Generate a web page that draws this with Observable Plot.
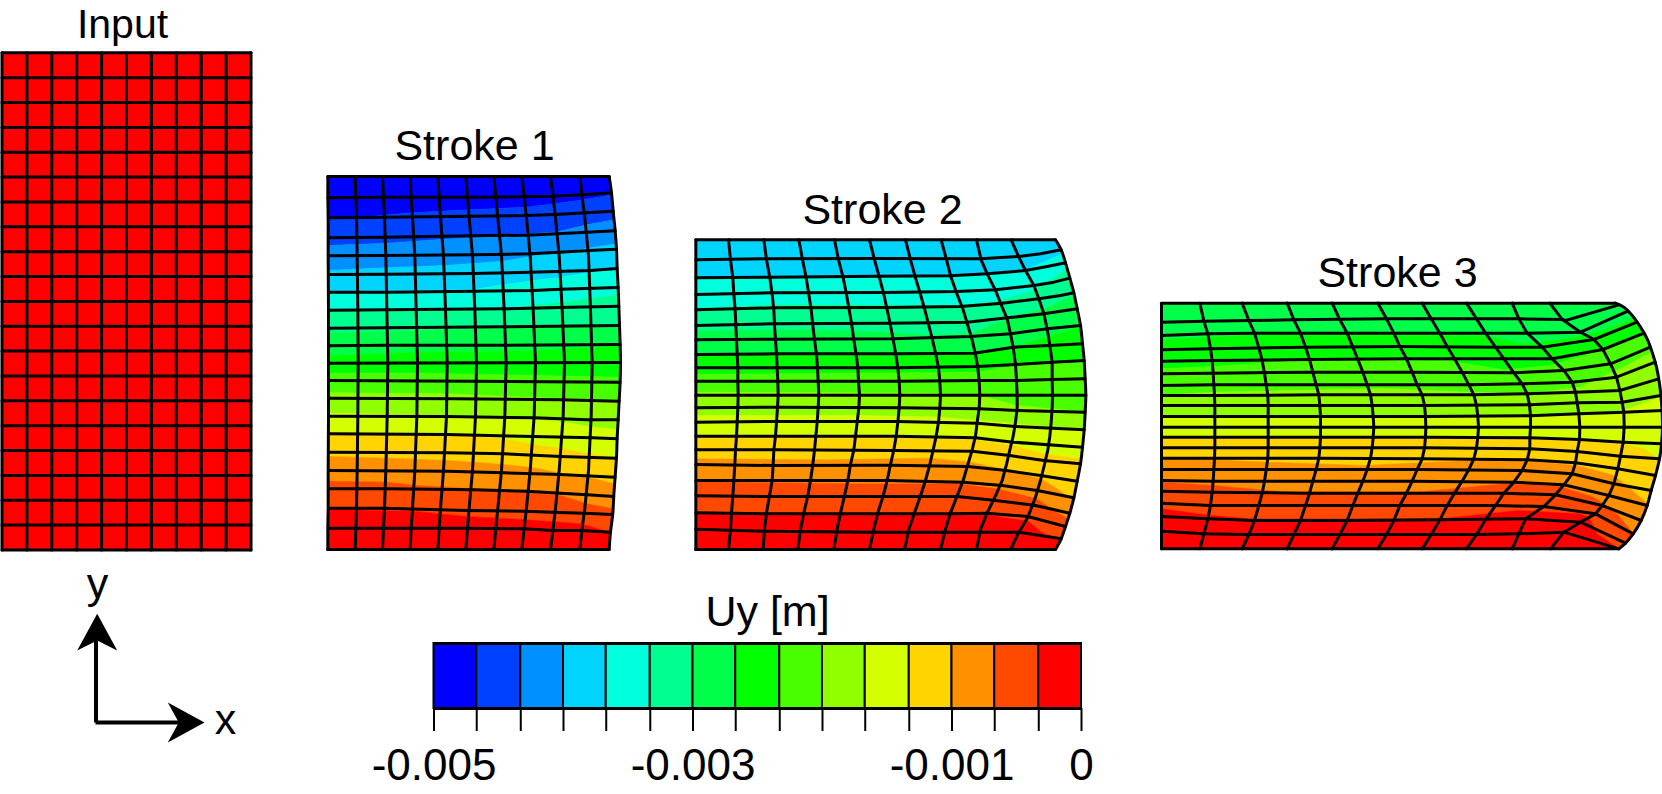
<!DOCTYPE html>
<html>
<head>
<meta charset="utf-8">
<script src="https://cdn.jsdelivr.net/npm/d3@7"></script>
<script src="https://cdn.jsdelivr.net/npm/@observablehq/plot@0.6"></script>
<style>
html,body{margin:0;padding:0;background:#fff}
#fig{position:relative;width:1662px;height:794px;overflow:hidden}
#fig svg{position:absolute;left:0;background:transparent}
</style>
</head>
<body>
<div id="fig"></div>
<script>
// ---------- colour bar ----------
const bandColors = ["#0000ff","#0040ff","#0090ff","#00d4ff","#00ffdc","#00ff90","#00ff48","#00ff00","#48ff00","#90ff00","#d4ff00","#ffd400","#ff9000","#ff4800","#ff0000"];
const uyLevels = [-0.005,-0.00467,-0.00433,-0.004,-0.00367,-0.00333,-0.003,-0.00267,-0.00233,-0.002,-0.00167,-0.00133,-0.001,-0.00067,-0.00033,0];
const uyLabels = ["-0.005","","","","","","-0.003","","","","","","-0.001","","","0"];

// ---------- input mesh (figure units) ----------
const inputCols = [1.5,26.4,51.3,76.2,101.1,126,150.9,175.8,200.7,225.6,250.5];
const inputRows = [52.3,77.2,102,126.9,151.8,176.6,201.5,226.3,251.2,276,300.9,325.8,350.6,375.5,400.3,425.2,450,474.9,499.8,524.6,549.5];

// ---------- stroke 1: flat x,y lists, read at 3x from the crop starting (320,160) / (320,360) ----------
const s1ColY = [48,110,172,286,449,606,767,930,1043,1103,1167];
const s1ColX = [
 [22,22,23,23,24,24,24,23,23,22,22],
 [104,106,108,110,112,113,112,110,108,106,104],
 [186,189,192,196,199,202,200,196,192,189,186],
 [269,272,276,283,287,291,289,283,276,272,269],
 [352,356,360,369,375,380,378,369,360,356,352],
 [436,441,446,456,463,468,465,456,446,441,436],
 [520,526,532,543,551,557,553,543,532,526,520],
 [604,611,618,629,638,645,641,629,618,611,604],
 [690,698,705,716,725,732,728,716,705,698,690],
 [778,785,793,804,810,815,812,804,793,785,778]];
const s1Edge = [866,48,873,97,878,152,884,211,888,266,890,324,893,381,895,437,897,495,899,552,900,606,899,662,896,720,893,778,890,833,888,889,884,948,880,1003,877,1058,870,1115,866,1167];
const s1RowsUp = [
 [22,48,866,48],
 [22,112,186,110,436,110,604,109,695,107,785,103,873,97],
 [23,172,192,170,446,167,618,165,705,162,795,157,878,152],
 [23,232,196,230,450,226,620,224,710,220,800,215,884,211],
 [23,286,196,285,456,283,630,280,716,275,805,270,888,266],
 [24,342,199,341,460,339,630,335,810,330,890,324],
 [24,395,199,395,460,392,640,390,720,386,893,381],
 [24,449,200,448,550,445,720,441,895,437],
 [24,503,200,502,550,499,897,495],
 [24,556,200,554,550,554,899,552]];
const s1RowsDown = [
 [24,8,901,6],
 [24,60,460,62,897,65],
 [24,113,400,115,720,118,896,122],
 [24,167,380,168,640,172,800,178,893,178],
 [24,220,380,222,640,228,815,232,890,235],
 [24,275,380,277,550,280,720,288,888,293],
 [24,330,380,332,550,337,720,342,884,350],
 [24,385,200,385,460,388,620,392,720,398,800,403,880,408],
 [24,443,190,443,440,450,610,452,695,455,790,458,876,462],
 [23,503,186,503,440,503,610,505,695,510,780,510,870,515],
 [22,567,866,567]];
const s1BandsUp = [
 [22,172,150,168,270,157,450,148,620,140,700,130,790,118,875,103],
 [22,255,200,248,370,236,540,228,710,214,800,193,880,178],
 [22,330,200,322,375,315,550,302,635,287,805,263,888,250],
 [22,395,460,387,550,373,640,360,725,350,810,335,892,325],
 [22,449,550,445,640,435,730,425,895,403],
 [22,517,300,510,650,500,897,495],
 [22,585,300,575,650,570,900,556]];
const s1BandsDown = [
 [22,38,300,38,640,45,900,50],
 [22,97,380,100,560,108,895,120],
 [22,158,380,165,640,178,730,185,815,200,895,207],
 [22,217,380,222,550,235,640,252,730,265,815,282,888,292],
 [22,288,200,293,380,300,460,305,550,312,640,322,720,338,810,352,885,370],
 [22,362,200,365,290,375,460,385,620,395,720,405,800,430,880,445],
 [22,447,190,450,280,452,440,468,620,478,780,490,870,515]];

// ---------- stroke 2: crops starting (690,230) / (690,390) ----------
const s2ColsUp = [
 [16,28,16,494],
 [114,28,120,88,127,142,130,192,134,238,136,285,138,328,140,372,142,412,142,452,143,494],
 [220,28,228,88,238,142,245,192,250,238,252,285,255,328,258,372,260,412,262,452,263,494],
 [325,28,336,88,347,142,355,192,362,238,367,285,372,328,378,372,381,412,383,452,385,494],
 [432,28,444,88,458,142,468,192,476,238,484,285,490,328,497,372,502,412,504,452,507,494],
 [537,28,552,88,567,142,580,192,590,238,600,285,608,328,616,372,622,412,626,452,628,494],
 [645,28,660,88,675,142,690,192,703,238,715,285,726,328,736,372,744,412,748,452,750,494],
 [752,28,768,88,782,142,800,192,818,238,832,285,845,328,855,372,862,412,866,452,868,494],
 [858,28,872,88,890,130,915,180,935,230,950,265,960,310,968,350,975,402,978,450,980,494],
 [962,28,985,80,1005,120,1030,165,1045,205,1060,250,1070,295,1078,345,1085,395,1085,447,1086,494]];
const s2EdgeUp = [1095,28,1112,58,1125,97,1138,143,1150,187,1160,235,1170,285,1176,340,1181,390,1184,445,1186,494];
const s2RowsUp = [
 [16,28,1095,28],
 [16,88,220,85,540,84,870,85,985,78,1050,70,1112,58],
 [16,142,240,140,560,137,780,136,890,130,1005,120,1070,108,1125,97],
 [16,192,240,187,580,186,800,183,915,178,1030,165,1090,155,1138,143],
 [16,238,250,232,590,231,810,228,935,218,1045,205,1110,195,1150,187],
 [16,285,252,280,600,278,830,275,950,262,1060,250,1160,235],
 [16,328,255,326,608,325,840,318,960,310,1070,295,1170,285],
 [16,372,258,370,616,370,850,368,968,350,1078,345,1176,340],
 [16,412,260,412,622,412,860,408,975,402,1085,395,1181,390],
 [16,452,262,452,626,452,866,450,978,450,1085,447,1184,445],
 [16,494,1186,494]];
const s2BandsUp = [
 [16,142,600,140,880,130,1005,118,1060,95,1115,70],
 [16,233,300,222,800,225,920,213,1030,180,1130,115],
 [16,300,350,298,600,305,720,315,840,310,950,265,1060,235,1155,195],
 [16,372,500,372,860,365,970,348,1075,318,1172,290],
 [16,432,500,428,860,425,975,405,1180,395]];
const s2ColsDown = [
 [16,12,16,477],
 [143,12,142,52,140,95,138,137,135,178,133,222,130,270,127,316,123,367,120,416,114,477],
 [263,12,261,52,258,95,255,137,250,178,248,222,245,270,237,316,228,367,222,416,218,477],
 [385,12,383,52,380,95,376,137,372,178,367,222,360,270,352,316,340,367,330,416,322,477],
 [507,12,505,52,500,95,495,137,490,178,480,222,472,270,462,316,450,367,440,416,430,477],
 [628,12,626,52,622,95,617,137,610,178,600,222,590,270,578,316,562,367,550,416,537,477],
 [750,12,748,52,744,95,737,137,728,178,718,222,705,270,690,316,672,367,655,416,642,477],
 [868,12,866,52,860,95,855,137,845,178,832,222,818,270,800,316,780,367,765,416,750,477],
 [980,12,980,52,975,95,968,137,958,178,948,222,935,270,915,316,890,367,870,416,858,477],
 [1086,12,1085,52,1082,95,1078,137,1072,178,1062,222,1050,270,1035,320,1012,380,985,425,960,477]];
const s2EdgeDown = [1186,12,1184,65,1181,118,1176,170,1170,220,1160,272,1150,322,1138,368,1125,408,1112,445,1095,477];
const s2RowsDown = [
 [16,52,260,50,628,52,866,55,980,60,1184,65],
 [16,95,258,93,620,93,860,98,975,108,1181,118],
 [16,137,255,137,617,137,855,142,968,155,1176,170],
 [16,178,250,178,610,180,845,182,958,195,1060,210,1170,220],
 [16,222,248,225,600,224,832,228,948,240,1050,255,1160,272],
 [16,270,245,270,590,270,818,275,935,285,1040,300,1150,322],
 [16,316,237,318,578,318,800,318,915,330,1035,345,1138,368],
 [16,367,228,370,562,370,780,370,890,368,1012,378,1125,408],
 [16,416,222,422,550,425,765,425,870,425,985,425,1112,445],
 [16,477,1095,477]];
const s2BandsDown = [
 [16,5,700,8,870,15,975,45,1184,65],
 [16,75,500,75,750,80,860,90,975,100,1181,120],
 [16,140,600,140,850,148,970,165,1060,190,1170,205],
 [16,205,400,208,720,203,840,215,950,240,1050,265,1100,295,1150,330],
 [16,273,500,280,800,280,920,295,1040,325,1090,360,1138,385],
 [16,367,880,370,960,385,1010,390,1060,430,1112,445]];

// ---------- stroke 3: crops starting (1150,290) / (1150,420) ----------
const s3ColsUp = [
 [33,38,33,410],
 [148,38,160,92,172,130,180,175,185,210,188,248,190,283,192,315,193,345,193,378,193,410],
 [275,38,295,90,312,128,325,172,335,210,342,248,347,283,352,315,353,345,353,378,353,410],
 [410,38,430,88,450,128,465,170,477,207,487,245,497,283,505,313,508,345,510,378,510,410],
 [545,38,568,88,590,128,607,170,622,207,637,245,650,283,660,313,665,345,668,378,670,410],
 [682,38,708,85,730,128,748,168,768,205,785,245,800,283,815,313,822,345,825,378,826,410],
 [815,38,842,85,868,128,890,168,912,205,935,245,955,283,970,313,978,345,982,378,984,410],
 [948,38,978,85,1005,128,1035,170,1060,205,1090,247,1115,280,1130,310,1137,343,1140,376,1140,410],
 [1085,38,1105,85,1130,128,1175,170,1205,205,1240,240,1265,275,1275,305,1280,337,1285,370,1288,410],
 [1198,38,1235,87,1290,125,1330,147,1357,177,1380,220,1398,260,1408,300,1415,335,1420,365,1421,410]];
const s3EdgeUp = [1395,38,1420,50,1445,75,1470,110,1490,145,1505,185,1518,230,1527,280,1533,335,1536,410];
const s3RowsUp = [
 [33,38,1395,38],
 [33,95,160,92,295,90,430,88,708,85,978,85,1105,85,1235,87,1245,90,1405,43],
 [33,135,172,130,312,128,590,128,868,128,1130,128,1290,125,1425,62],
 [33,178,180,175,465,170,748,168,1035,170,1175,170,1330,147,1448,95],
 [33,212,185,210,477,207,768,205,1060,205,1205,205,1357,177,1472,128],
 [33,250,188,248,487,245,785,245,1090,247,1240,240,1380,220,1490,170],
 [33,285,190,283,497,283,800,283,955,283,1115,280,1265,275,1398,260,1505,215],
 [33,315,192,315,505,313,815,313,970,313,1130,310,1275,305,1408,300,1517,265],
 [33,345,193,345,508,345,822,345,1137,343,1280,337,1415,335,1525,315],
 [33,378,193,378,510,378,825,378,1140,376,1285,370,1420,365,1528,360],
 [33,410,1536,410]];
const s3BandsUp = [
 [33,148,300,133,1000,135,1120,160,1250,145,1340,125,1440,85],
 [33,235,190,228,480,208,900,212,1060,238,1200,225,1380,170,1490,135],
 [33,315,190,305,700,295,950,305,1130,310,1290,290,1420,230,1510,185],
 [33,378,1285,375,1420,360,1533,320]];
const s3ColsDown = [
 [33,18,33,385],
 [193,18,193,50,193,82,192,113,190,147,188,182,185,215,180,255,172,295,160,340,148,385],
 [353,18,353,50,353,82,352,113,347,147,342,182,335,218,325,255,312,300,295,342,275,385],
 [510,18,510,50,508,82,505,113,497,147,487,182,477,218,465,255,450,300,430,342,410,385],
 [670,18,668,50,665,82,660,113,650,147,637,182,622,218,607,255,590,300,568,342,545,385],
 [826,18,825,50,822,82,815,115,800,147,785,182,768,218,748,255,730,300,708,342,682,385],
 [984,18,982,50,978,82,970,115,955,147,935,182,912,218,890,255,868,298,842,342,815,385],
 [1140,18,1138,52,1138,85,1130,118,1115,150,1090,185,1060,218,1035,255,1005,298,978,342,948,385],
 [1288,18,1287,57,1280,93,1275,127,1265,160,1240,193,1215,223,1180,258,1125,295,1105,340,1085,385],
 [1421,18,1418,65,1410,107,1402,145,1390,190,1375,225,1355,255,1335,280,1290,305,1240,335,1200,385]];
const s3EdgeDown = [1536,18,1533,70,1527,115,1515,165,1502,210,1490,255,1472,300,1448,340,1425,368,1405,385];
const s3RowsDown = [
 [33,50,193,50,510,50,825,50,1138,52,1287,57,1418,65,1533,70],
 [33,82,193,82,508,82,822,82,1138,85,1280,93,1410,107,1527,115],
 [33,113,192,113,505,113,815,115,1130,118,1275,127,1402,145,1515,165],
 [33,147,190,147,497,147,800,147,1115,150,1265,160,1390,190,1502,210],
 [33,180,188,182,487,182,785,182,1090,185,1240,193,1375,225,1490,255],
 [33,212,185,215,477,218,768,218,1060,218,1215,223,1355,255,1472,300],
 [33,248,180,255,465,255,748,255,1035,255,1180,258,1335,280,1448,340],
 [33,288,172,295,312,300,590,300,868,298,1125,295,1290,305,1425,368],
 [33,332,160,340,295,342,430,342,708,342,978,342,1105,340,1240,335,1405,385],
 [33,385,1405,385]];
const s3BandsDown = [
 [33,50,1200,50,1420,70,1480,85,1527,115],
 [33,115,190,118,350,125,640,135,950,120,1100,120,1280,135,1390,165,1440,205,1490,250],
 [33,185,190,195,400,215,800,215,1060,190,1220,195,1330,230,1400,280,1448,340],
 [33,265,165,283,300,295,870,295,1100,270,1290,280,1315,290,1340,340,1405,385]];

// ---------- arrows and titles ----------
const arrowShafts = [[[95.5,722],[95.5,626]],[[95,722],[190,722]]];
const arrowHeads = [
 [[96.7,613.3],[76.7,650],[96.7,640],[116.7,650]],
 [[204,722],[167.3,702],[178.3,722],[167.3,742]]];
const titles = ["Input","Stroke 1","Stroke 2","Stroke 3","Uy [m]","y","x"];
const titleX = [122,474,882,1397,767,97,225];
const titleBase = [37,159,223,286,625,597,733];
const titleSize = [41,43,43,43,43,43,43];

// ---------- builders ----------
const read = (ox, oy, flat) => {
  const out = [];
  for (let i = 0; i < flat.length; i += 2) out.push({x: ox + flat[i] / 3, y: oy + flat[i + 1] / 3});
  return out;
};
const edgeX = (edge, y) => {
  if (y <= edge[0].y) return edge[0].x;
  for (let i = 0; i < edge.length - 1; i++) {
    const a = edge[i], b = edge[i + 1];
    if (y >= a.y && y <= b.y) return a.x + (b.x - a.x) * (y - a.y) / (b.y - a.y);
  }
  return edge[edge.length - 1].x;
};
const snapEnd = (line, edge) => {
  const l = line.slice(), e = l[l.length - 1];
  l[l.length - 1] = {x: edgeX(edge, e.y), y: e.y};
  return l;
};
const polys = [];
const meshPts = [];
const edgePts = [];
let lineId = 0;
const addLine = pts => { const id = lineId++; pts.forEach(p => meshPts.push({id, x: p.x, y: p.y})); };
const addEdge = pts => { const id = lineId++; pts.forEach(p => edgePts.push({id, x: p.x, y: p.y})); };
const addBands = (firstColor, seq, edge) => {
  const lines = seq.map(l => snapEnd(l, edge));
  for (let k = 0; k < lines.length - 1; k++) {
    const A = lines[k], B = lines[k + 1];
    const ya = A[A.length - 1].y, yb = B[B.length - 1].y;
    const between = edge.filter(p => p.y > ya && p.y < yb);
    const id = "p" + firstColor + "-" + k;
    const color = bandColors[firstColor + k];
    [...A, ...between, ...B.slice().reverse()].forEach(p => polys.push({id, color, x: p.x, y: p.y}));
  }
};

// stroke 1
{
  const up = l => read(320, 160, l), down = l => read(320, 360, l);
  const edge = up(s1Edge);
  const rows = [...s1RowsUp.map(up), ...s1RowsDown.map(down)];
  addBands(0, [rows[0], ...s1BandsUp.map(up), ...s1BandsDown.map(down), rows[rows.length - 1]], edge);
  rows.forEach(r => addLine(snapEnd(r, edge)));
  s1ColX.forEach(xs => addLine(read(320, 160, xs.flatMap((x, i) => [x, s1ColY[i]]))));
  addEdge(edge);
}
// stroke 2
{
  const up = l => read(690, 230, l), down = l => read(690, 390, l);
  const edge = [...up(s2EdgeUp), ...down(s2EdgeDown).slice(1)];
  const rows = [...s2RowsUp.map(up), ...s2RowsDown.map(down)];
  addBands(3, [rows[0], ...s2BandsUp.map(up), ...s2BandsDown.map(down), rows[rows.length - 1]], edge);
  rows.forEach(r => addLine(snapEnd(r, edge)));
  s2ColsUp.forEach((c, i) => addLine([...up(c), ...down(s2ColsDown[i]).slice(1)]));
  addEdge(edge);
}
// stroke 3
{
  const up = l => read(1150, 290, l), down = l => read(1150, 420, l);
  const edge = [...up(s3EdgeUp), ...down(s3EdgeDown).slice(1)];
  const rows = [...s3RowsUp.map(up), ...s3RowsDown.map(down)];
  addBands(6, [rows[0], ...s3BandsUp.map(up), ...s3BandsDown.map(down), rows[rows.length - 1]], edge);
  rows.forEach(r => addLine(snapEnd(r, edge)));
  s3ColsUp.forEach((c, i) => addLine([...up(c), ...down(s3ColsDown[i]).slice(1)]));
  addEdge(edge);
}
// input
inputCols.forEach(x => addLine([{x, y: inputRows[0]}, {x, y: inputRows[inputRows.length - 1]}]));
inputRows.forEach(y => addLine([{x: inputCols[0], y}, {x: inputCols[inputCols.length - 1], y}]));

const shaftPts = arrowShafts.flatMap((s, id) => s.map(([x, y]) => ({id, x, y})));
const headPts = arrowHeads.flatMap((s, id) => s.map(([x, y]) => ({id, x, y})));
const labelData = titles.map((t, i) => ({t, x: titleX[i], y: titleBase[i], size: titleSize[i]}));
const FONT = "'Liberation Sans', Arial, sans-serif";

const main = Plot.plot({
  width: 1662, height: 794,
  marginTop: 0, marginRight: 0, marginBottom: 0, marginLeft: 0,
  x: {domain: [0, 1662], range: [0, 1662], axis: null},
  y: {domain: [0, 794], range: [0, 794], axis: null},
  color: {type: "identity"},
  style: {fontFamily: FONT, background: "transparent"},
  marks: [
    Plot.rect([0], {x1: inputCols[0], x2: inputCols[inputCols.length - 1], y1: inputRows[0], y2: inputRows[inputRows.length - 1], fill: bandColors[14]}),
    Plot.line(polys, {x: "x", y: "y", z: "id", fill: "color", stroke: "color", strokeWidth: 0.6, curve: "linear"}),
    Plot.line(meshPts, {x: "x", y: "y", z: "id", stroke: "#000", strokeWidth: 3, curve: "linear"}),
    Plot.line(edgePts, {x: "x", y: "y", z: "id", stroke: "#000", strokeWidth: 3, curve: "catmull-rom"}),
    Plot.line(shaftPts, {x: "x", y: "y", z: "id", stroke: "#000", strokeWidth: 4, strokeLinecap: "butt", strokeLinejoin: "miter"}),
    Plot.line(headPts, {x: "x", y: "y", z: "id", fill: "#000", stroke: "none"}),
    Plot.text(labelData, {x: "x", y: "y", text: "t", fontSize: "size", fill: "#000", lineAnchor: "bottom", textAnchor: "middle"})
  ]
});
main.style.top = "0px";

const barBands = bandColors.map((color, i) => ({x1: uyLevels[i], x2: uyLevels[i + 1], color}));
const labelFor = new Map(uyLevels.map((v, i) => [v, uyLabels[i]]));
const bar = Plot.plot({
  width: 1662, height: 154,
  marginTop: 3, marginRight: 0, marginBottom: 86, marginLeft: 0,
  x: {domain: [-0.005, 0], range: [433.5, 1081], axis: null},
  y: {domain: [0, 1], axis: null},
  color: {type: "identity"},
  style: {fontFamily: FONT, background: "transparent"},
  marks: [
    Plot.rect(barBands, {x1: "x1", x2: "x2", y1: 0, y2: 1, fill: "color", stroke: "#000", strokeWidth: 2}),
    Plot.axisX(uyLevels, {anchor: "bottom", tickSize: 23, tickPadding: 17, strokeWidth: 2, stroke: "#000", fill: "#000", fontSize: 44, tickFormat: d => labelFor.get(d), label: null}),
    Plot.ruleY([0, 1], {x1: -0.005, x2: 0, stroke: "#000", strokeWidth: 3})
  ]
});
bar.style.top = "640px";

document.getElementById("fig").append(main, bar);
</script>
</body>
</html>
